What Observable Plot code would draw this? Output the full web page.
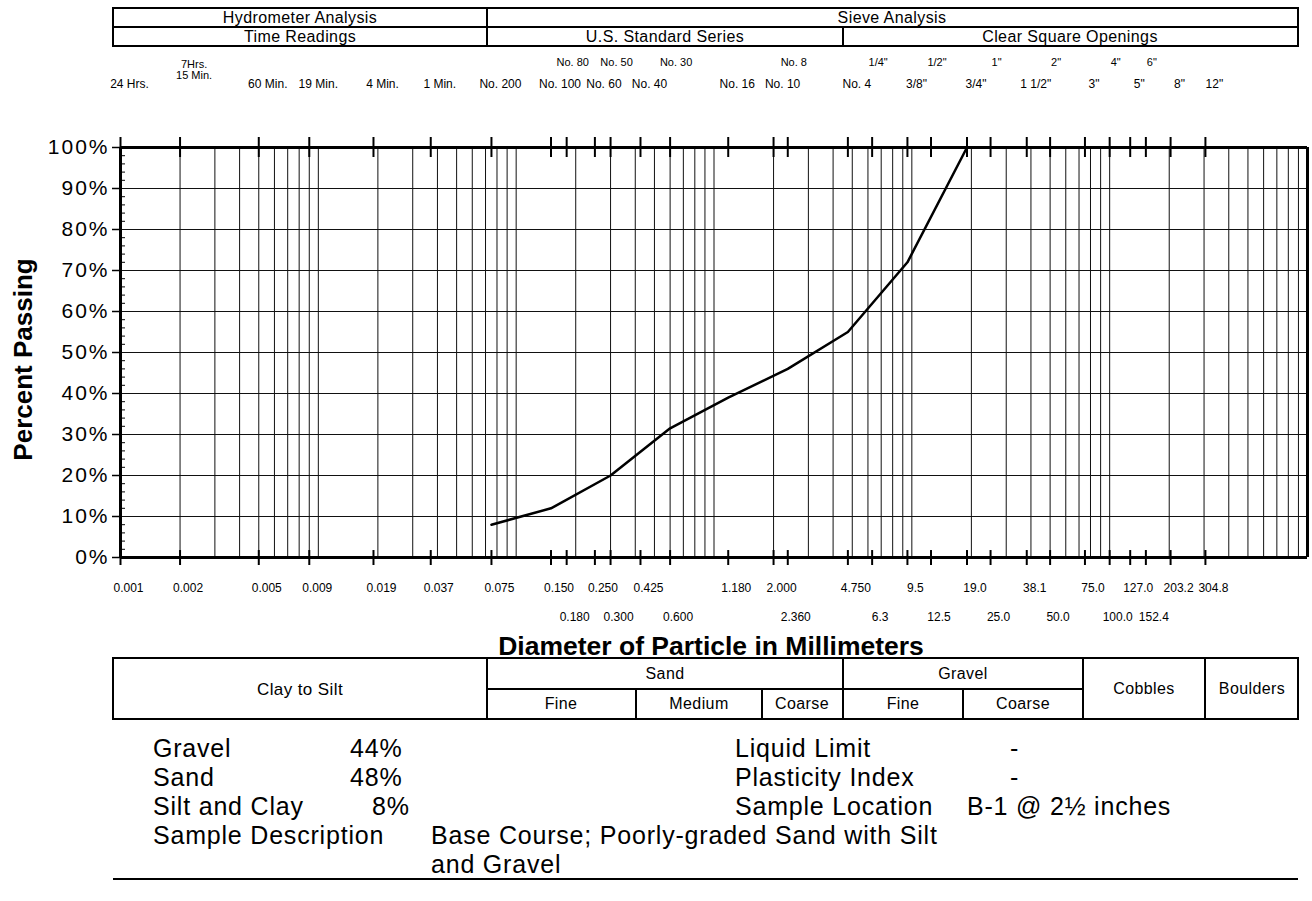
<!DOCTYPE html>
<html><head><meta charset="utf-8">
<script src="https://cdn.jsdelivr.net/npm/d3@7"></script>
<script src="https://cdn.jsdelivr.net/npm/@observablehq/plot@0.6"></script>
<style>
body{margin:0;background:#fff;}
#wrap{position:relative;width:1312px;height:901px;font-family:"Liberation Sans",Arial,sans-serif;color:#000;overflow:hidden;background:#fff}
#chart{position:absolute;left:0;top:0}
.ln{position:absolute;background:#000}
.c{position:absolute;transform:translate(-50%,-50%);white-space:nowrap;font-size:16px;line-height:1;letter-spacing:0.4px}
.t{position:absolute;transform:translateY(-50%);white-space:nowrap;font-size:25px;line-height:1;letter-spacing:0.8px}
g[aria-label="y-axis tick label"] text{letter-spacing:2px}
</style></head><body><div id="wrap"><div id="chart"></div></div>
<script>
// ---- data ----
const sieveSizes = [0.075, 0.15, 0.3, 0.6, 1.18, 2.36, 4.75, 9.5, 19.0];
const percentPassing = [8, 12, 20, 31.5, 39, 46, 55, 72, 100];

const bottomRow1Values = [0.001, 0.002, 0.005, 0.009, 0.019, 0.037, 0.075, 0.150, 0.250, 0.425, 1.180, 2.000, 4.750, 9.5, 19.0, 38.1, 75.0, 127.0, 203.2, 304.8];
const bottomRow1Labels = ["0.001","0.002","0.005","0.009","0.019","0.037","0.075","0.150","0.250","0.425","1.180","2.000","4.750","9.5","19.0","38.1","75.0","127.0","203.2","304.8"];
const bottomRow2Values = [0.180, 0.300, 0.600, 2.360, 6.3, 12.5, 25.0, 50.0, 100.0, 152.4];
const bottomRow2Labels = ["0.180","0.300","0.600","2.360","6.3","12.5","25.0","50.0","100.0","152.4"];

const topUpperValues = [0.180, 0.300, 0.600, 2.360, 6.3, 12.5, 25.0, 50.0, 100.0, 152.4];
const topUpperLabels = ["No. 80","No. 50","No. 30","No. 8","1/4\"","1/2\"","1\"","2\"","4\"","6\""];
const topLowerValues = [0.001, 0.005, 0.009, 0.019, 0.037, 0.075, 0.150, 0.250, 0.425, 1.180, 2.000, 4.750, 9.5, 19.0, 38.1, 75.0, 127.0, 203.2, 304.8];
const topLowerLabels = ["24 Hrs.","60 Min.","19 Min.","4 Min.","1 Min.","No. 200","No. 100","No. 60","No. 40","No. 16","No. 10","No. 4","3/8\"","3/4\"","1 1/2\"","3\"","5\"","8\"","12\""];
const topHoursValue = [0.002];
const topHoursLabel = ["7Hrs.\n15 Min."];

const yTicks = [0,10,20,30,40,50,60,70,80,90,100];
const yMinor = d3.range(2, 100, 2).filter(v => v % 10 !== 0);
const gridX = d3.scaleLog().domain([0.001, 1000]).ticks();
const tickPositions = bottomRow1Values.concat(bottomRow2Values);

const rows = sieveSizes.map((d, i) => ({d, p: percentPassing[i]}));

// ---- chart ----
const plot = Plot.plot({
  width: 1312, height: 901,
  marginTop: 147, marginBottom: 344, marginLeft: 120, marginRight: 5,
  style: {fontFamily: "'Liberation Sans', Arial, sans-serif", color: "#000", background: "transparent", overflow: "visible"},
  x: {type: "log", domain: [0.001, 1000], axis: null},
  y: {domain: [0, 100], axis: null},
  marks: [
    Plot.ruleX(gridX, {stroke: "#111", strokeWidth: 1}),
    Plot.ruleY(yTicks.slice(1, -1), {stroke: "#111", strokeWidth: 1}),
    Plot.ruleY(yMinor, {x1: 0.001, x2: 0.00106, stroke: "#000", strokeWidth: 1}),
    Plot.axisY({ticks: yTicks, tickFormat: d => d + "%", tickSize: 8, tickPadding: 3, fontSize: 21, label: null, strokeWidth: 1.5}),
    Plot.ruleY([0, 100], {stroke: "#000", strokeWidth: 3}),
    Plot.ruleX([0.001, 1000], {stroke: "#000", strokeWidth: 3}),
    Plot.ruleX(tickPositions, {y1: 97.56, y2: 102.44, stroke: "#000", strokeWidth: 2}),
    Plot.ruleX(tickPositions, {y1: -1.95, y2: 1.7, stroke: "#000", strokeWidth: 2}),
    Plot.line(rows, {x: "d", y: "p", stroke: "#000", strokeWidth: 2.5}),
    Plot.text(bottomRow1Values, {x: d => d, text: (d, i) => bottomRow1Labels[i], frameAnchor: "bottom", lineAnchor: "middle", dy: 31, dx: 8, fontSize: 12}),
    Plot.text(bottomRow2Values, {x: d => d, text: (d, i) => bottomRow2Labels[i], frameAnchor: "bottom", lineAnchor: "middle", dy: 60, dx: 8, fontSize: 12}),
    Plot.text(topLowerValues, {x: d => d, text: (d, i) => topLowerLabels[i], frameAnchor: "top", lineAnchor: "middle", dy: -63, dx: 9, fontSize: 12}),
    Plot.text(topUpperValues, {x: d => d, text: (d, i) => topUpperLabels[i], frameAnchor: "top", lineAnchor: "middle", dy: -85, dx: 6, fontSize: 11}),
    Plot.text(topHoursValue, {x: d => d, text: (d, i) => topHoursLabel[i], frameAnchor: "top", lineAnchor: "middle", dy: -78, dx: 14, fontSize: 11}),
    Plot.text(["Percent Passing"], {frameAnchor: "left", textAnchor: "middle", rotate: -90, dx: -97, dy: 7, fontSize: 26, fontWeight: "bold"}),
    Plot.text(["Diameter of Particle in Millimeters"], {frameAnchor: "bottom", textAnchor: "middle", lineAnchor: "middle", dy: 89, dx: -3, fontSize: 26.5, fontWeight: "bold"})
  ]
});
document.getElementById("chart").appendChild(plot);

// ---- tables and notes ----
const wrap = document.getElementById("wrap");
function hl(x1, x2, y, w = 2) { const e = document.createElement("div"); e.className = "ln"; Object.assign(e.style, {left: x1 + "px", top: (y - w / 2) + "px", width: (x2 - x1) + "px", height: w + "px"}); wrap.appendChild(e); }
function vl(x, y1, y2, w = 2) { const e = document.createElement("div"); e.className = "ln"; Object.assign(e.style, {left: (x - w / 2) + "px", top: y1 + "px", width: w + "px", height: (y2 - y1) + "px"}); wrap.appendChild(e); }
function ct(txt, x, y, fs) { const e = document.createElement("div"); e.className = "c"; e.textContent = txt; Object.assign(e.style, {left: x + "px", top: y + "px"}); if (fs) e.style.fontSize = fs + "px"; wrap.appendChild(e); }
function lt(txt, x, y) { const e = document.createElement("div"); e.className = "t"; e.textContent = txt; Object.assign(e.style, {left: x + "px", top: y + "px"}); wrap.appendChild(e); }

// top table
hl(113, 1298, 8); hl(113, 1298, 27, 1.5); hl(113, 1298, 46);
vl(113, 7, 47); vl(1298, 7, 47); vl(487, 8, 46, 1.5); vl(843, 27, 46, 1.5);
ct("Hydrometer Analysis", 300, 17.5, 16); ct("Sieve Analysis", 892, 17.5, 16);
ct("Time Readings", 300, 36.5, 16); ct("U.S. Standard Series", 665, 36.5, 16); ct("Clear Square Openings", 1070, 36.5, 16);

// bottom table
hl(113, 1298, 658); hl(487, 1083, 689, 1.5); hl(113, 1298, 719);
vl(113, 657, 720); vl(1298, 657, 720);
vl(487, 658, 719, 1.5); vl(843, 658, 719, 1.5); vl(1083, 658, 719, 1.5); vl(1205, 658, 719, 1.5);
vl(636, 689, 719, 1.5); vl(762, 689, 719, 1.5); vl(963, 689, 719, 1.5);
ct("Clay to Silt", 300, 689, 17); ct("Sand", 665, 673.5); ct("Gravel", 963, 673.5);
ct("Cobbles", 1144, 689); ct("Boulders", 1252, 689);
ct("Fine", 561, 704); ct("Medium", 699, 704); ct("Coarse", 802, 704); ct("Fine", 903, 704); ct("Coarse", 1023, 704);

// notes
lt("Gravel", 153, 748); lt("44%", 350, 748);
lt("Sand", 153, 777); lt("48%", 350, 777);
lt("Silt and Clay", 153, 806); lt("8%", 372, 806);
lt("Sample Description", 153, 835); lt("Base Course; Poorly-graded Sand with Silt", 431, 835);
lt("and Gravel", 431, 864);
lt("Liquid Limit", 735, 748); lt("-", 1010, 748);
lt("Plasticity Index", 735, 777); lt("-", 1010, 777);
lt("Sample Location", 735, 806); lt("B-1 @ 2½ inches", 967, 806);
hl(113, 1298, 879);
</script></body></html>
